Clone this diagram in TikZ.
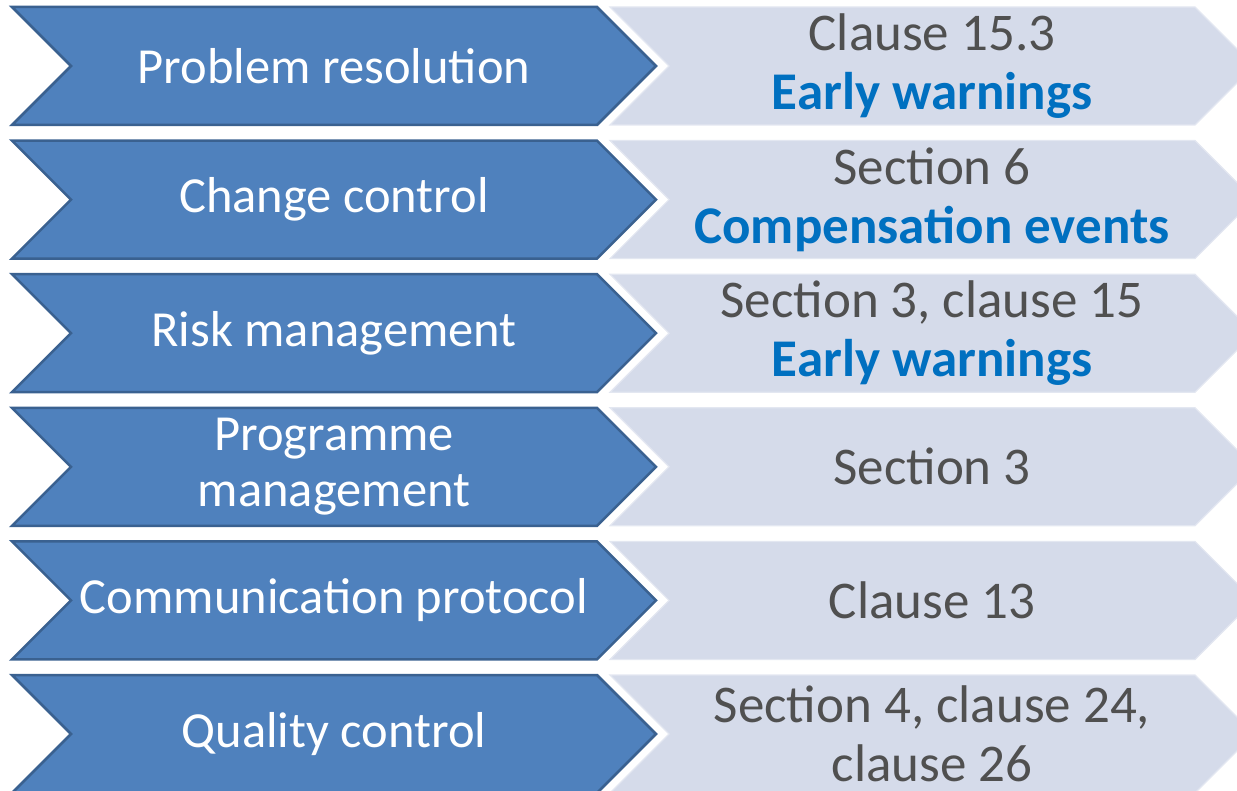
\documentclass[tikz,border=0pt]{standalone}
\usepackage{fontspec}
\setmainfont{Carlito}
\usepackage{tikz}
\usetikzlibrary{shapes.symbols,positioning}
\definecolor{phasefill}{HTML}{4F81BD}
\definecolor{phaseedge}{HTML}{3A6190}
\definecolor{reffill}{HTML}{D5DBEA}
\definecolor{refedge}{HTML}{E3E7F1}
\definecolor{refgray}{HTML}{505050}
\definecolor{refblue}{HTML}{0070C0}

\begin{document}
\begin{tikzpicture}[x=1pt, y=1pt, node distance={133.6pt},
    main/.style = {signal, signal from=west, signal to=east, signal pointer angle=90,
        minimum width=644pt, minimum height=118pt, inner sep=0pt, align=center},
    phase/.style = {main, fill=phasefill, draw=phaseedge, line width=2.5pt, text=white,
        font=\fontsize{50.5}{56}\selectfont},
    ref/.style = {main, fill=reffill, draw=refedge, line width=1.2pt, text=refgray,
        font=\fontsize{53}{59}\selectfont}]
    \useasboundingbox (0,0) rectangle (1237,-791);
    \clip (0,0) rectangle (1237,-791);

    % Nodes
    \node[phase] (1) at (334,-66) {Problem resolution};
    \node[phase] (2) [below of=1] {Change control};
    \node[phase] (3) [below of=2] {Risk management};
    \node[phase] (4) [below of=3] {Programme\\management};
    \node[phase] (5) [below of=4] {Communication protocol};
    \node[phase] (6) [below of=5] {Quality control};

    % clause references
    \node[ref, node distance={598pt}] (1c) [right of=1] {Clause 15.3\\\textbf{\color{refblue}Early warnings}};
    \node[ref, node distance={598pt}] (2c) [right of=2] {Section 6\\\textbf{\color{refblue}Compensation events}};
    \node[ref, node distance={598pt}] (3c) [right of=3] {Section 3, clause 15\\\textbf{\color{refblue}Early warnings}};
    \node[ref, node distance={598pt}] (4c) [right of=4] {Section 3};
    \node[ref, node distance={598pt}] (5c) [right of=5] {Clause 13};
    \node[ref, node distance={598pt}] (6c) [right of=6] {Section 4, clause 24,\\clause 26};
\end{tikzpicture}
\end{document}
